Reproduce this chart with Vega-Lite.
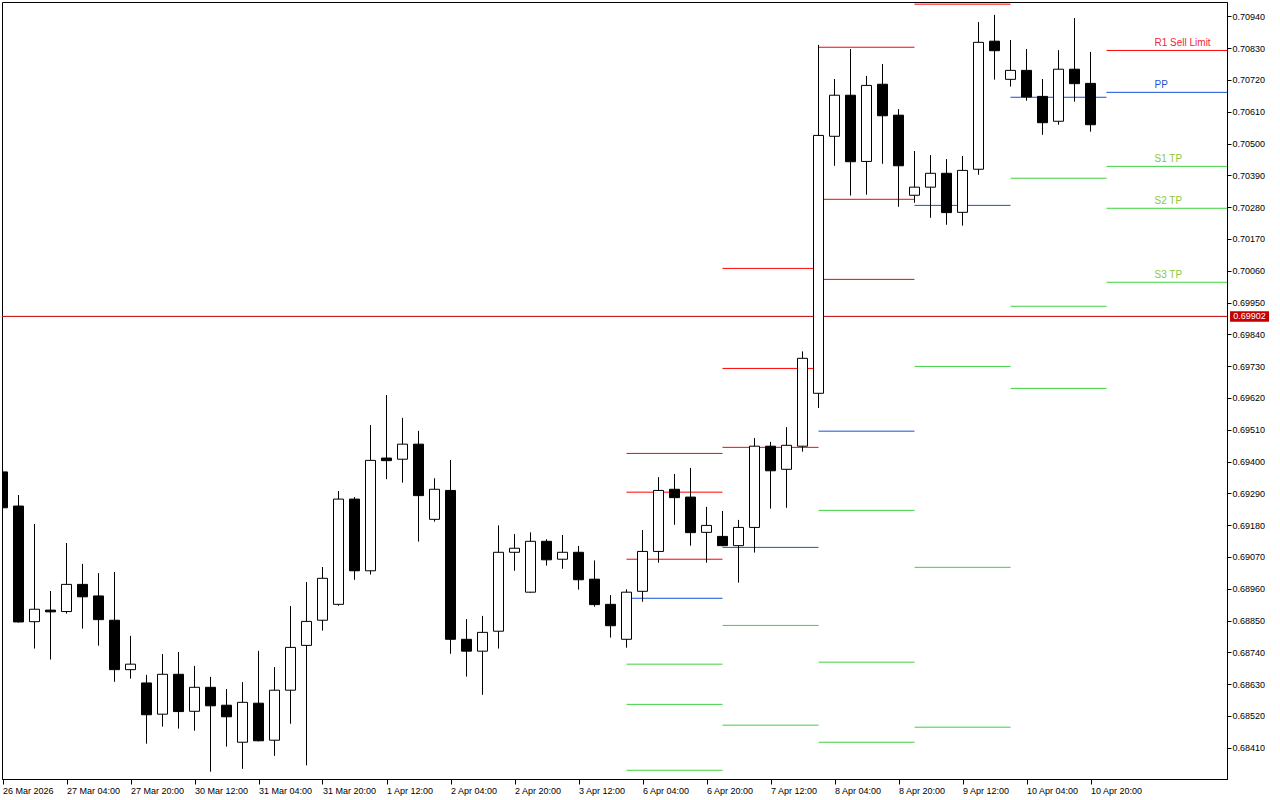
{
  "$schema": "https://vega.github.io/schema/vega-lite/v6.json",
  "width": 1225,
  "height": 777,
  "autosize": {"type": "none"},
  "padding": {"left": 2, "top": 2, "right": 53, "bottom": 21},
  "background": "white",
  "config": {
    "view": {"stroke": "black", "strokeWidth": 1},
    "font": "Liberation Sans",
    "axis": {"labelFont": "Liberation Sans", "labelColor": "black", "tickColor": "black", "domainColor": "black", "grid": false, "title": null, "labelOverlap": false, "labelFontSize": 9, "labelFlush": false, "labelBound": false, "tickCount": 100},
    "axisY": {"labelOverlap": false}
  },
  "datasets": {
    "candles": [
      {"i":0,"o":0.69364,"h":0.69371,"l":0.69236,"c":0.69240},
      {"i":1,"o":0.69246,"h":0.69284,"l":0.68843,"c":0.68845},
      {"i":2,"o":0.68846,"h":0.69184,"l":0.68753,"c":0.68889},
      {"i":3,"o":0.68886,"h":0.68952,"l":0.68715,"c":0.68880},
      {"i":4,"o":0.68881,"h":0.69118,"l":0.68874,"c":0.68975},
      {"i":5,"o":0.68975,"h":0.69046,"l":0.68822,"c":0.68932},
      {"i":6,"o":0.68935,"h":0.69014,"l":0.68763,"c":0.68853},
      {"i":7,"o":0.68851,"h":0.69018,"l":0.68638,"c":0.68680},
      {"i":8,"o":0.68680,"h":0.68797,"l":0.68649,"c":0.68699},
      {"i":9,"o":0.68634,"h":0.68662,"l":0.68424,"c":0.68524},
      {"i":10,"o":0.68526,"h":0.68734,"l":0.68483,"c":0.68664},
      {"i":11,"o":0.68664,"h":0.68741,"l":0.68476,"c":0.68535},
      {"i":12,"o":0.68536,"h":0.68693,"l":0.68469,"c":0.68619},
      {"i":13,"o":0.68619,"h":0.68655,"l":0.68327,"c":0.68555},
      {"i":14,"o":0.68557,"h":0.68613,"l":0.68414,"c":0.68517},
      {"i":15,"o":0.68429,"h":0.68637,"l":0.68337,"c":0.68567},
      {"i":16,"o":0.68564,"h":0.68745,"l":0.68432,"c":0.68434},
      {"i":17,"o":0.68436,"h":0.68689,"l":0.68382,"c":0.68609},
      {"i":18,"o":0.68609,"h":0.68900,"l":0.68493,"c":0.68757},
      {"i":19,"o":0.68764,"h":0.68983,"l":0.68349,"c":0.68847},
      {"i":20,"o":0.68851,"h":0.69035,"l":0.68815,"c":0.68996},
      {"i":21,"o":0.68906,"h":0.69298,"l":0.68901,"c":0.69270},
      {"i":22,"o":0.69270,"h":0.69277,"l":0.68991,"c":0.69022},
      {"i":23,"o":0.69022,"h":0.69526,"l":0.69009,"c":0.69404},
      {"i":24,"o":0.69412,"h":0.69630,"l":0.69339,"c":0.69403},
      {"i":25,"o":0.69408,"h":0.69551,"l":0.69327,"c":0.69460},
      {"i":26,"o":0.69460,"h":0.69506,"l":0.69123,"c":0.69282},
      {"i":27,"o":0.69200,"h":0.69342,"l":0.69192,"c":0.69304},
      {"i":28,"o":0.69300,"h":0.69405,"l":0.68735,"c":0.68785},
      {"i":29,"o":0.68785,"h":0.68855,"l":0.68656,"c":0.68744},
      {"i":30,"o":0.68744,"h":0.68866,"l":0.68593,"c":0.68809},
      {"i":31,"o":0.68813,"h":0.69179,"l":0.68753,"c":0.69086},
      {"i":32,"o":0.69086,"h":0.69149,"l":0.69022,"c":0.69100},
      {"i":33,"o":0.68948,"h":0.69155,"l":0.68946,"c":0.69124},
      {"i":34,"o":0.69124,"h":0.69131,"l":0.69040,"c":0.69060},
      {"i":35,"o":0.69062,"h":0.69146,"l":0.69029,"c":0.69086},
      {"i":36,"o":0.69086,"h":0.69108,"l":0.68957,"c":0.68991},
      {"i":37,"o":0.68993,"h":0.69058,"l":0.68898,"c":0.68905},
      {"i":38,"o":0.68906,"h":0.68938,"l":0.68791,"c":0.68832},
      {"i":39,"o":0.68785,"h":0.68958,"l":0.68756,"c":0.68948},
      {"i":40,"o":0.68951,"h":0.69163,"l":0.68915,"c":0.69089},
      {"i":41,"o":0.69089,"h":0.69346,"l":0.69050,"c":0.69300},
      {"i":42,"o":0.69304,"h":0.69357,"l":0.69181,"c":0.69275},
      {"i":43,"o":0.69277,"h":0.69378,"l":0.69109,"c":0.69154},
      {"i":44,"o":0.69155,"h":0.69243,"l":0.69050,"c":0.69179},
      {"i":45,"o":0.69141,"h":0.69229,"l":0.69107,"c":0.69109},
      {"i":46,"o":0.69109,"h":0.69198,"l":0.68981,"c":0.69172},
      {"i":47,"o":0.69172,"h":0.69481,"l":0.69085,"c":0.69453},
      {"i":48,"o":0.69453,"h":0.69468,"l":0.69237,"c":0.69368},
      {"i":49,"o":0.69373,"h":0.69519,"l":0.69240,"c":0.69456},
      {"i":50,"o":0.69453,"h":0.69781,"l":0.69434,"c":0.69757},
      {"i":51,"o":0.69636,"h":0.70841,"l":0.69585,"c":0.70528},
      {"i":52,"o":0.70525,"h":0.70723,"l":0.70423,"c":0.70667},
      {"i":53,"o":0.70667,"h":0.70827,"l":0.70320,"c":0.70437},
      {"i":54,"o":0.70438,"h":0.70734,"l":0.70323,"c":0.70701},
      {"i":55,"o":0.70705,"h":0.70775,"l":0.70430,"c":0.70596},
      {"i":56,"o":0.70598,"h":0.70619,"l":0.70281,"c":0.70423},
      {"i":57,"o":0.70321,"h":0.70474,"l":0.70295,"c":0.70349},
      {"i":58,"o":0.70349,"h":0.70460,"l":0.70243,"c":0.70397},
      {"i":59,"o":0.70397,"h":0.70446,"l":0.70219,"c":0.70261},
      {"i":60,"o":0.70262,"h":0.70457,"l":0.70216,"c":0.70407},
      {"i":61,"o":0.70411,"h":0.70920,"l":0.70392,"c":0.70850},
      {"i":62,"o":0.70854,"h":0.70945,"l":0.70721,"c":0.70821},
      {"i":63,"o":0.70722,"h":0.70858,"l":0.70697,"c":0.70753},
      {"i":64,"o":0.70753,"h":0.70827,"l":0.70648,"c":0.70661},
      {"i":65,"o":0.70663,"h":0.70723,"l":0.70530,"c":0.70572},
      {"i":66,"o":0.70577,"h":0.70823,"l":0.70565,"c":0.70757},
      {"i":67,"o":0.70757,"h":0.70934,"l":0.70645,"c":0.70707},
      {"i":68,"o":0.70708,"h":0.70817,"l":0.70541,"c":0.70565}
    ],
    "pivots": [
      {"x1":39,"x2":45,"p":0.69428,"kind":"R"},
      {"x1":39,"x2":45,"p":0.69294,"kind":"R"},
      {"x1":39,"x2":45,"p":0.69062,"kind":"R"},
      {"x1":39,"x2":45,"p":0.68927,"kind":"PP"},
      {"x1":39,"x2":45,"p":0.68699,"kind":"S"},
      {"x1":39,"x2":45,"p":0.68560,"kind":"S"},
      {"x1":39,"x2":45,"p":0.68332,"kind":"S"},
      {"x1":45,"x2":51,"p":0.70068,"kind":"R"},
      {"x1":45,"x2":51,"p":0.69722,"kind":"R"},
      {"x1":45,"x2":51,"p":0.69449,"kind":"R"},
      {"x1":45,"x2":51,"p":0.69103,"kind":"PP"},
      {"x1":45,"x2":51,"p":0.68833,"kind":"S"},
      {"x1":45,"x2":51,"p":0.68488,"kind":"S"},
      {"x1":51,"x2":57,"p":0.70833,"kind":"R"},
      {"x1":51,"x2":57,"p":0.70307,"kind":"R"},
      {"x1":51,"x2":57,"p":0.70030,"kind":"R"},
      {"x1":51,"x2":57,"p":0.69505,"kind":"PP"},
      {"x1":51,"x2":57,"p":0.69231,"kind":"S"},
      {"x1":51,"x2":57,"p":0.68706,"kind":"S"},
      {"x1":51,"x2":57,"p":0.68429,"kind":"S"},
      {"x1":57,"x2":63,"p":0.70982,"kind":"R"},
      {"x1":57,"x2":63,"p":0.70286,"kind":"PP"},
      {"x1":57,"x2":63,"p":0.69729,"kind":"S"},
      {"x1":57,"x2":63,"p":0.69034,"kind":"S"},
      {"x1":57,"x2":63,"p":0.68481,"kind":"S"},
      {"x1":63,"x2":69,"p":0.70660,"kind":"PP"},
      {"x1":63,"x2":69,"p":0.70380,"kind":"S"},
      {"x1":63,"x2":69,"p":0.69937,"kind":"S"},
      {"x1":63,"x2":69,"p":0.69653,"kind":"S"},
      {"x1":69,"x2":78,"p":0.70822,"kind":"R"},
      {"x1":69,"x2":78,"p":0.70677,"kind":"PP"},
      {"x1":69,"x2":78,"p":0.70421,"kind":"S"},
      {"x1":69,"x2":78,"p":0.70276,"kind":"S"},
      {"x1":69,"x2":78,"p":0.70020,"kind":"S"},
      {"x1":-1,"x2":78,"p":0.69902,"kind":"price"}
    ],
    "current": [
      {"p":0.70822,"kind":"R","label":"R1 Sell Limit"},
      {"p":0.70677,"kind":"PP","label":"PP"},
      {"p":0.70421,"kind":"S","label":"S1 TP"},
      {"p":0.70276,"kind":"S","label":"S2 TP"},
      {"p":0.70020,"kind":"S","label":"S3 TP"}
    ],
    "last": [{"p":0.69902,"label":"0.69902"}]
  },
  "layer": [
    {
      "data": {"name": "pivots"},
      "mark": {"type": "rule", "strokeWidth": 1, "clip": true},
      "encoding": {
        "x": {"field": "x1", "type": "quantitative",
          "scale": {"domain": [-0.03125, 76.53125], "nice": false, "zero": false, "padding": 0},
          "axis": {
            "orient": "bottom",
            "values": [0,4,8,12,16,20,24,28,32,36,40,44,48,52,56,60,64,68],
            "labelExpr": "['26 Mar 2026','27 Mar 04:00','27 Mar 20:00','30 Mar 12:00','31 Mar 04:00','31 Mar 20:00','1 Apr 12:00','2 Apr 04:00','2 Apr 20:00','3 Apr 12:00','6 Apr 04:00','6 Apr 20:00','7 Apr 12:00','8 Apr 04:00','8 Apr 20:00','9 Apr 12:00','10 Apr 04:00','10 Apr 20:00'][round(datum.value/4)]",
            "labelAlign": "left",
            "labelBaseline": "top",
            "labelPadding": 2,
            "tickSize": 5,
            "tickCount": 100,
            "labelFontSize": 9,
            "labelOverlap": false,
            "labelFlush": false,
            "labelBound": false
          }
        },
        "x2": {"field": "x2"},
        "y": {"field": "p", "type": "quantitative",
          "scale": {"domain": [0.683018, 0.709895], "nice": false, "zero": false, "padding": 0},
          "axis": {
            "orient": "right",
            "values": [0.7094,0.7083,0.7072,0.7061,0.705,0.7039,0.7028,0.7017,0.7006,0.6995,0.6984,0.6973,0.6962,0.6951,0.694,0.6929,0.6918,0.6907,0.6896,0.6885,0.6874,0.6863,0.6852,0.6841],
            "format": ".5f",
            "tickSize": 4,
            "tickCount": 100,
            "labelPadding": 1,
            "labelFontSize": 9,
            "labelOverlap": false,
            "labelFlush": false,
            "labelBound": false
          }
        },
        "color": {"field": "kind", "type": "nominal", "legend": null,
          "scale": {"domain": ["R","PP","S","price"], "range": ["#ff0000","#1450d8","#3cd23c","#c00000"]}}
      }
    },
    {
      "data": {"name": "current"},
      "mark": {"type": "text", "align": "left", "baseline": "alphabetic", "dy": -4, "fontSize": 10, "font": "Liberation Sans"},
      "encoding": {
        "x": {"datum": 72, "type": "quantitative"},
        "y": {"field": "p", "type": "quantitative"},
        "text": {"field": "label"},
        "fill": {"field": "kind", "type": "nominal", "legend": null,
          "scale": {"domain": ["R","PP","S"], "range": ["#f0283c","#1e50dc","#8cc83c"]}}
      }
    },
    {
      "data": {"name": "candles"},
      "mark": {"type": "rule", "color": "black", "strokeWidth": 1, "clip": true},
      "encoding": {
        "x": {"field": "i", "type": "quantitative"},
        "y": {"field": "l", "type": "quantitative"},
        "y2": {"field": "h"}
      }
    },
    {
      "data": {"name": "candles"},
      "mark": {"type": "bar", "width": 10, "stroke": "black", "strokeWidth": 1, "clip": true},
      "encoding": {
        "x": {"field": "i", "type": "quantitative"},
        "y": {"field": "o", "type": "quantitative"},
        "y2": {"field": "c"},
        "fill": {"condition": {"test": "datum.c > datum.o", "value": "white"}, "value": "black"}
      }
    },
    {
      "data": {"name": "last"},
      "mark": {"type": "point", "shape": "M-1,-0.27L1,-0.27L1,0.27L-1,0.27Z", "size": 1521, "filled": true, "fill": "#c40000", "stroke": null, "opacity": 1, "clip": false},
      "encoding": {
        "x": {"datum": 77.94, "type": "quantitative"},
        "y": {"field": "p", "type": "quantitative"}
      }
    },
    {
      "data": {"name": "last"},
      "mark": {"type": "text", "align": "center", "baseline": "middle", "fontSize": 9, "font": "Liberation Sans", "fill": "white", "clip": false},
      "encoding": {
        "x": {"datum": 77.94, "type": "quantitative"},
        "y": {"field": "p", "type": "quantitative"},
        "text": {"field": "label"}
      }
    }
  ],
  "resolve": {"scale": {"color": "independent", "fill": "independent"}}
}
